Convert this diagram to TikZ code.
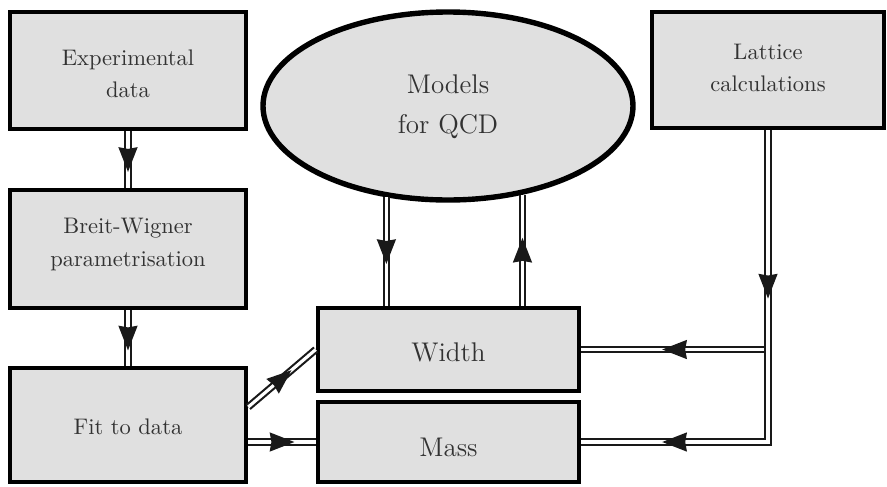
\documentclass[tikz,border=0pt]{standalone}
\usetikzlibrary{shapes.geometric,decorations.markings,fit}
\definecolor{boxfill}{RGB}{224,224,224}
\definecolor{txt}{RGB}{50,50,50}
\tikzset{
  x=0.444pt, y=-0.444pt,
  box/.style={draw=black, line width=2pt, fill=boxfill, inner sep=0pt},
  lbl/.style={align=center, text=txt, inner sep=0pt, font=\fontsize{10}{14.4}\selectfont},
  biglbl/.style={lbl, font=\fontsize{12}{17.8}\selectfont},
  oval/.style={ellipse, draw=black, line width=2.4pt, fill=boxfill, inner sep=0pt},
  dbl/.style={draw=black!90, line width=0.95pt, double=white, double distance=1.4pt, line join=miter},
  arrowmark/.style={decoration={markings, mark=at position 0.5 with {\fill[black!90] (5.5pt,0) -- (-5.5pt,4.3pt) -- (-4.7pt,0) -- (-5.5pt,-4.3pt) -- cycle;}}, decorate}
}
\begin{document}
\begin{tikzpicture}
\useasboundingbox (0,0) rectangle (887,486);
% boxes
\node[box, fit={(10,12) (246,129)}, label={[lbl, yshift=-1.5pt]center:Experimental\\data}] (exp) {};
\node[box, fit={(10,190) (246,308)}, label={[lbl, yshift=2pt]center:Breit-Wigner\\parametrisation}] (bw) {};
\node[box, fit={(10,368) (246,482)}, label={[lbl, yshift=-1pt]center:Fit to data}] (fitbox) {};
\node[box, fit={(652,12) (884,128)}, label={[lbl, yshift=1pt]center:Lattice\\calculations}] (lat) {};
\node[box, fit={(318,308) (579,391)}, label={[biglbl, yshift=-1.2pt]center:Width}] (width) {};
\node[box, fit={(318,402) (579,482)}, label={[biglbl, yshift=-2.2pt]center:Mass}] (mass) {};
\node[oval, minimum width=370*0.444pt, minimum height=188*0.444pt,
      label={[biglbl, yshift=-0.4pt]center:Models\\for QCD}] (model) at (448,106) {};
% connectors
\draw[dbl] (exp.south) -- (bw.north);
\path[arrowmark] (exp.south) -- (bw.north);
\draw[dbl] (bw.south) -- (fitbox.north);
\path[arrowmark] (bw.south) -- (fitbox.north);
\draw[dbl] (model.236.5) -- (model.236.5 |- width.north);
\path[arrowmark] (model.236.5) -- (model.236.5 |- width.north);
\draw[dbl] (model.310.2 |- width.north) -- (model.310.2);
\path[arrowmark] (model.310.2 |- width.north) -- (model.310.2);
\draw[dbl] (lat.south |- width.east) -- (width.east);
\path[arrowmark] (lat.south |- width.east) -- (width.east);
\draw[dbl] (lat.south) |- (mass.east);
\path[arrowmark] (lat.south) -- (lat.south |- mass.east);
\path[arrowmark] (lat.south |- mass.east) -- (mass.east);
\draw[dbl] ([yshift=8pt]fitbox.east) -- (width.west);
\path[arrowmark] ([yshift=8pt]fitbox.east) -- (width.west);
\draw[dbl] (fitbox.east |- mass.west) -- (mass.west);
\path[arrowmark] (fitbox.east |- mass.west) -- (mass.west);
\end{tikzpicture}
\end{document}
